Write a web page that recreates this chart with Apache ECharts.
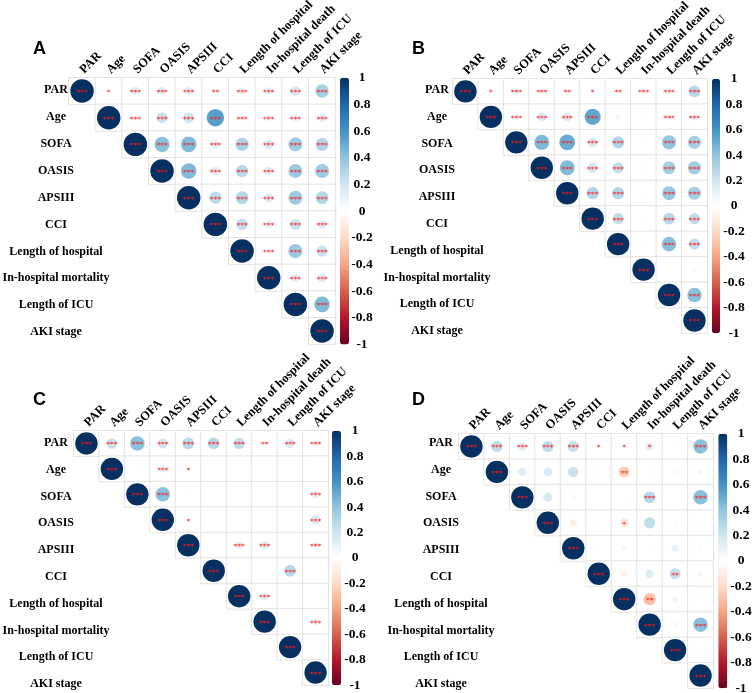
<!DOCTYPE html>
<html>
<head>
<meta charset="utf-8">
<script src="https://cdn.jsdelivr.net/npm/echarts@6/dist/echarts.min.js"></script>
<style>html,body{margin:0;padding:0;background:#fff}#c{width:753px;height:693px}</style>
</head>
<body>
<div id="c"></div>
<script>
// ---- data ----
const colVars = ['PAR','Age','SOFA','OASIS','APSIII','CCI','Length of hospital','In-hospital death','Length of ICU','AKI stage'];
const rowVars = ['PAR','Age','SOFA','OASIS','APSIII','CCI','Length of hospital','In-hospital mortality','Length of ICU','AKI stage'];
const panelLetters = ['A','B','C','D'];
const colorTicks = [-1,-0.8,-0.6,-0.4,-0.2,0,0.2,0.4,0.6,0.8,1];

// upper-triangle correlations (row i, starting at diagonal)
const corrA = [
  [1, 0.02, 0.13, 0.13, 0.13, 0.03, 0.09, 0.11, 0.17, 0.33],
  [1, 0.06, 0.22, 0.20, 0.55, 0.07, 0.08, 0.10, 0.13],
  [1, 0.42, 0.44, 0.13, 0.32, 0.16, 0.36, 0.30],
  [1, 0.44, 0.14, 0.28, 0.14, 0.36, 0.36],
  [1, 0.27, 0.30, 0.15, 0.36, 0.30],
  [1, 0.24, 0.11, 0.22, 0.14],
  [1, 0.03, 0.37, 0.22],
  [1, 0.13, 0.15],
  [1, 0.44],
  [1]
];
const starsA = [
  ['***','*','***','***','***','**','***','***','***','***'],
  ['***','***','***','***','***','***','***','***','***'],
  ['***','***','***','***','***','***','***','***'],
  ['***','***','***','***','***','***','***'],
  ['***','***','***','***','***','***'],
  ['***','***','***','***','***'],
  ['***','***','***','***'],
  ['***','***','***'],
  ['***','***'],
  ['***']
];
const corrB = [
  [1, 0.01, 0.08, 0.07, 0.03, 0.01, 0.03, 0.05, 0.09, 0.28],
  [1, 0.07, 0.16, 0.16, 0.52, 0.06, 0.005, 0.08, 0.09],
  [1, 0.45, 0.50, 0.18, 0.30, 0.01, 0.40, 0.34],
  [1, 0.44, 0.19, 0.25, 0.01, 0.34, 0.35],
  [1, 0.30, 0.30, 0.005, 0.38, 0.34],
  [1, 0.25, 0.005, 0.28, 0.25],
  [1, 0.005, 0.42, 0.25],
  [1, 0.0, 0.05],
  [1, 0.42],
  [1]
];
const starsB = [
  ['***','*','***','***','**','*','**','***','***','***'],
  ['***','***','***','***','***','','','***','***'],
  ['***','***','***','***','***','','***','***'],
  ['***','***','***','***','','***','***'],
  ['***','***','***','','***','***'],
  ['***','***','','***','***'],
  ['***','','***','***'],
  ['***','',''],
  ['***','***'],
  ['***']
];
const corrC = [
  [1, 0.22, 0.42, 0.20, 0.28, 0.28, 0.25, 0.015, 0.17, 0.07],
  [1, 0.005, 0.10, 0.01, 0.0, 0.003, 0.0, 0.0, 0.0],
  [1, 0.42, 0.005, 0.002, 0.002, 0.002, 0.003, 0.12],
  [1, 0.01, 0.0, 0.0, 0.001, 0.0, 0.17],
  [1, 0.0, 0.12, 0.15, 0.0, 0.10],
  [1, 0.0, 0.002, 0.28, 0.0],
  [1, 0.12, 0.003, 0.002],
  [1, 0.0, 0.10],
  [1, 0.0],
  [1]
];
const starsC = [
  ['***','***','***','***','***','***','***','**','***','***'],
  ['***','','***','*','','','','',''],
  ['***','***','','','','','','***'],
  ['***','*','','','','','***'],
  ['***','','***','***','','***'],
  ['***','','','***',''],
  ['***','***','',''],
  ['***','','***'],
  ['***',''],
  ['***']
];
const corrD = [
  [1, 0.25, 0.14, 0.25, 0.24, 0.01, 0.02, 0.12, 0.005, 0.42],
  [1, 0.14, 0.16, 0.22, -0.02, -0.24, 0.03, 0.04, 0.05],
  [1, 0.16, 0.05, 0.003, 0.005, 0.28, 0.002, 0.42],
  [1, -0.10, -0.02, -0.14, 0.25, 0.03, 0.005],
  [1, 0.005, -0.05, 0.01, 0.10, -0.03],
  [1, -0.08, 0.14, 0.24, 0.06],
  [1, -0.30, -0.07, 0.004],
  [1, 0.05, 0.42],
  [1, 0.005],
  [1]
];
const starsD = [
  ['***','***','***','***','***','*','*','*','','***'],
  ['***','','','','','**','','',''],
  ['***','','','','','***','','***'],
  ['***','','','*','','',''],
  ['***','','','','',''],
  ['***','','','**',''],
  ['***','**','',''],
  ['***','','***'],
  ['***',''],
  ['***']
];

// ---- layout / style ----
const RdBu = ['#67001F','#B2182B','#D6604D','#F4A582','#FDDBC7','#FFFFFF','#D1E5F0','#92C5DE','#4393C3','#2166AC','#053061'];
const panels = [
  {corr: corrA, stars: starsA, cell:{left:68.7, top:77.7, size:266.7}, lab:{cx:56, top:76.6, h:269}, bar:{left:340, w:9, cx:362}, title:{left:33, top:40}},
  {corr: corrB, stars: starsB, cell:{left:452.7, top:78.7, size:254.5}, lab:{cx:437, top:76.6, h:268}, bar:{left:712, w:8, cx:734}, title:{left:412, top:40}},
  {corr: corrC, stars: starsC, cell:{left:73.7, top:430.7, size:254.6}, lab:{cx:56, top:429.6, h:268}, bar:{left:332, w:9, cx:355}, title:{left:33, top:391}},
  {corr: corrD, stars: starsD, cell:{left:458.7, top:433.7, size:254.6}, lab:{cx:441, top:429.6, h:268}, bar:{left:718.3, w:9, cx:741}, title:{left:412, top:391}}
];
const serif = 'Liberation Serif';
const grids = [], xAxes = [], yAxes = [], series = [], visualMaps = [], titles = [];

panels.forEach((p, k) => {
  const g0 = grids.length;
  const n = colVars.length;
  const cellPx = p.cell.size / n;
  grids.push({left:p.cell.left, top:p.cell.top, width:p.cell.size, height:p.cell.size, outerBoundsMode:'none'});
  grids.push({left:p.lab.cx, top:p.lab.top, width:5, height:p.lab.h, outerBoundsMode:'none'});
  grids.push({left:p.bar.cx, top:p.cell.top, width:5, height:p.cell.size, outerBoundsMode:'none'});
  // cell grid axes
  xAxes.push({type:'category', gridIndex:g0, data:colVars, position:'top',
    axisLine:{show:false}, axisTick:{show:false}, splitLine:{show:false},
    axisLabel:{interval:0, rotate:-45, margin:6, fontFamily:serif, fontWeight:'bold', fontSize:12.5, color:'#000'}});
  yAxes.push({type:'category', gridIndex:g0, data:rowVars, inverse:true,
    axisLine:{show:false}, axisTick:{show:false}, axisLabel:{show:false}, splitLine:{show:false}});
  // row-label grid axes
  xAxes.push({type:'category', gridIndex:g0+1, data:[''], show:false});
  yAxes.push({type:'category', gridIndex:g0+1, data:rowVars, inverse:true,
    axisLine:{show:false}, axisTick:{show:false}, splitLine:{show:false},
    axisLabel:{interval:0, align:'center', margin:0, fontFamily:serif, fontWeight:'bold', fontSize:12, color:'#000'}});
  // colorbar label axes
  xAxes.push({type:'category', gridIndex:g0+2, data:[''], show:false});
  yAxes.push({type:'value', gridIndex:g0+2, min:colorTicks[0], max:colorTicks[colorTicks.length-1], interval:0.2,
    axisLine:{show:false}, axisTick:{show:false}, splitLine:{show:false},
    axisLabel:{align:'center', margin:0, fontFamily:serif, fontWeight:'bold', fontSize:13.5, color:'#000',
      formatter: v => String(Math.round(v*10)/10)}});

  const cells = [], pts = [];
  p.corr.forEach((row, i) => row.forEach((v, d) => {
    const j = i + d;
    cells.push([j, i, 0]);
    pts.push({value:[j, i, v], name:p.stars[i][d]});
  }));
  series.push({type:'heatmap', xAxisIndex:g0, yAxisIndex:g0, data:cells, silent:true,
    itemStyle:{color:'#ffffff', borderColor:'#e3e3e3', borderWidth:1}, emphasis:{disabled:true}});
  const sIdx = series.length;
  series.push({type:'scatter', xAxisIndex:g0, yAxisIndex:g0, data:pts, silent:true,
    symbol:'circle', symbolSize: val => cellPx * 0.88 * Math.sqrt(Math.abs(val[2])),
    itemStyle:{opacity:1},
    label:{show:true, position:'inside', formatter:'{b}', color:'#ff1a1a', fontSize:7.5, fontFamily:'DejaVu Sans', offset:[0,2]},
    emphasis:{disabled:true}});
  visualMaps.push({type:'continuous', min:-1, max:1, dimension:2, seriesIndex:sIdx, calculable:false, hoverLink:false,
    inRange:{color:RdBu}, itemWidth:p.bar.w, itemHeight:p.cell.size, left:p.bar.left, top:p.cell.top, padding:0,
    text:null, showLabel:false, orient:'vertical'});
  titles.push({text:panelLetters[k], left:p.title.left, top:p.title.top, padding:0,
    textStyle:{fontFamily:'Liberation Sans', fontWeight:'bold', fontSize:18, color:'#000'}});
});

const chart = echarts.init(document.getElementById('c'), null, {renderer:'canvas'});
chart.setOption({
  animation:false,
  backgroundColor:'#ffffff',
  title:titles,
  grid:grids, xAxis:xAxes, yAxis:yAxes,
  visualMap:visualMaps,
  series:series
});
</script>
</body>
</html>
